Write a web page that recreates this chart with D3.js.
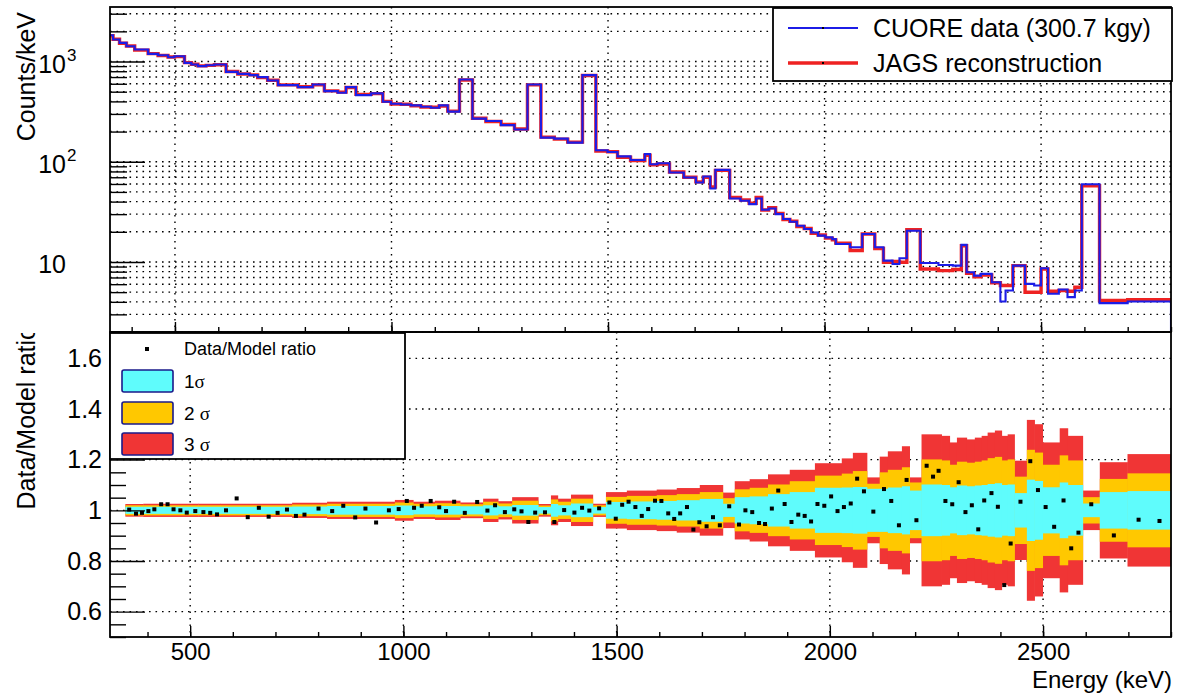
<!DOCTYPE html>
<html>
<head>
<meta charset="utf-8">
<title>CUORE data vs JAGS reconstruction</title>
<script src="https://d3js.org/d3.v7.min.js"></script>
<style>
  body { margin: 0; background: #fff; }
  text { font-family: "Liberation Sans", Arial, Helvetica, sans-serif; fill: #000; }
  .grid { stroke: #000; stroke-width: 1.4; stroke-dasharray: 1.6,4.9; fill: none; }
  .tick line { stroke: #000; stroke-width: 1.4; }
  .domain { display: none; }
</style>
</head>
<body>
<svg id="screen"></svg>
<script>
// ---- top panel: counts per bin (keV edges) ----
const topEdges = [350, 357, 372, 388, 407, 438, 461, 484, 499, 522,
  538, 553, 572, 591, 618, 645, 672, 691, 714, 738,
  784, 818, 845, 876, 895, 918, 953, 980, 999, 1022,
  1045, 1068, 1091, 1110, 1130, 1157, 1187, 1218, 1253, 1284,
  1314, 1345, 1376, 1407, 1441, 1472, 1499, 1522, 1552, 1585,
  1597, 1614, 1642, 1675, 1703, 1720, 1736, 1748, 1781, 1806,
  1826, 1842, 1855, 1871, 1887, 1904, 1920, 1936, 1953, 1969,
  1985, 2002, 2018, 2026, 2059, 2087, 2116, 2136, 2157, 2173,
  2190, 2221, 2263, 2296, 2316, 2328, 2345, 2361, 2386, 2406,
  2418, 2435, 2463, 2484, 2500, 2516, 2541, 2561, 2578, 2594,
  2635, 2700, 2800];

const dataCounts = [1828, 1656, 1535, 1422, 1316, 1191, 1156, 1104, 1130, 970,
  934, 899, 919, 934, 789, 753, 731, 698, 647, 581,
  555, 590, 507, 488, 555, 462, 481, 397, 379, 373,
  365, 354, 346, 365, 316, 662, 269, 255, 232, 210,
  590, 174, 170, 155, 731, 130, 125, 113, 104, 119,
  94.4, 96.6, 78, 69.5, 62, 71.2, 54, 83, 43, 40.8,
  37.8, 43, 33.2, 34.2, 30, 26.8, 25.2, 23, 21.3, 19.7,
  18.3, 17.6, 16.9, 15.1, 14, 19, 14, 10.3, 9.55, 10.9,
  20.5, 9.77, 9.33, 9.19, 14.8, 7.89, 7.31, 7.6, 6.28, 4.03,
  5.19, 9.19, 6.04, 5.82, 8.65, 4.81, 5.31, 4.46, 5.19, 59.7,
  3.88, 4.03];

const modelCounts = [1810, 1670, 1520, 1430, 1300, 1200, 1150, 1110, 1120, 975,
  940, 905, 915, 930, 795, 750, 735, 690, 650, 585,
  560, 585, 510, 495, 550, 470, 478, 400, 377, 375,
  362, 352, 350, 360, 320, 655, 272, 252, 235, 212,
  585, 176, 168, 157, 725, 128, 126, 111, 103, 116,
  93, 95, 79, 70, 63, 70, 56, 82, 44, 41.5,
  38.5, 44, 33, 34.8, 30.5, 26.5, 25.5, 22.6, 21.6, 19.3,
  18.6, 17.3, 16.6, 15.4, 13, 19, 13.6, 9.9, 10.1, 9.93,
  21, 8.5, 8.19, 8.4, 14.5, 7.7, 7.1, 7.4, 6.2, 5.82,
  5.82, 9.19, 4.99, 4.99, 8.5, 5.1, 5.19, 5.1, 5.6, 57.5,
  4.12, 4.19];

// ---- bottom panel: data/model ratio points ----
const ratioE = [357, 373, 387, 402, 416, 432, 447, 461, 477, 492,
  512, 531, 547, 563, 584, 609, 635, 661, 684, 705,
  727, 748, 768, 801, 833, 859, 887, 911, 936, 966,
  989, 1008, 1025, 1043, 1064, 1084, 1100, 1119, 1144, 1173,
  1197, 1215, 1238, 1260, 1277, 1293, 1309, 1332, 1354, 1377,
  1401, 1419, 1436, 1459, 1483, 1498, 1513, 1528, 1544, 1559,
  1574, 1590, 1605, 1621, 1635, 1649, 1665, 1680, 1694, 1711,
  1726, 1742, 1764, 1787, 1802, 1818, 1834, 1848, 1864, 1879,
  1894, 1910, 1926, 1941, 1956, 1971, 1987, 2003, 2018, 2033,
  2049, 2064, 2080, 2102, 2127, 2144, 2162, 2180, 2203, 2227,
  2242, 2255, 2271, 2287, 2302, 2318, 2333, 2348, 2362, 2379,
  2394, 2409, 2424, 2447, 2470, 2488, 2506, 2526, 2548, 2566,
  2583, 2613, 2666, 2724, 2773];

const ratioV = [1.003, 0.987, 0.990, 0.997, 1.004, 1.024, 1.024, 1.004, 1.0, 0.991,
  0.997, 0.993, 0.990, 0.984, 1.0, 1.047, 0.973, 1.010, 0.975, 0.990,
  1.003, 0.978, 0.983, 1.007, 0.997, 1.018, 0.972, 1.007, 0.952, 1.0,
  1.005, 1.037, 1.010, 1.018, 1.037, 1.012, 0.997, 1.034, 0.990, 1.033,
  0.999, 1.020, 0.993, 1.004, 0.996, 0.954, 0.991, 0.992, 0.954, 1.001,
  0.991, 1.010, 0.999, 1.008, 1.031, 0.967, 1.022, 1.034, 1.013, 0.978,
  1.005, 1.038, 1.037, 0.988, 0.966, 0.988, 1.013, 0.924, 0.953, 0.937,
  0.973, 0.941, 1.016, 0.944, 1.0, 0.993, 0.950, 0.946, 1.007, 1.078,
  1.025, 0.954, 0.983, 0.978, 0.956, 1.025, 1.018, 1.055, 0.997, 1.013,
  1.027, 1.125, 1.075, 0.995, 1.084, 1.037, 0.941, 1.120, 0.961, 1.176,
  1.133, 1.156, 1.037, 1.024, 1.111, 0.993, 1.020, 0.925, 1.039, 1.068,
  1.014, 0.705, 0.869, 1.034, 1.194, 1.080, 1.013, 0.935, 1.039, 0.850,
  0.912, 1.024, 0.901, 0.963, 0.958];

// ---- bottom panel: sigma bands (half widths around 1) ----
const bandEdges = [348, 390, 519, 570, 739, 821, 980, 1023, 1074, 1133,
  1187, 1222, 1255, 1316, 1346, 1362, 1393, 1444, 1475, 1524,
  1594, 1641, 1695, 1749, 1777, 1812, 1855, 1906, 1965, 2028,
  2054, 2087, 2117, 2136, 2169, 2187, 2215, 2262, 2281, 2298,
  2321, 2340, 2356, 2370, 2387, 2403, 2417, 2433, 2462, 2480,
  2499, 2539, 2558, 2593, 2633, 2698, 2800];

const sig1 = [0.014, 0.014, 0.014, 0.014, 0.015, 0.017, 0.019, 0.016, 0.017, 0.016,
  0.020, 0.016, 0.021, 0.013, 0.025, 0.020, 0.027, 0.013, 0.033, 0.035,
  0.037, 0.040, 0.045, 0.026, 0.052, 0.055, 0.064, 0.072, 0.089, 0.090,
  0.092, 0.085, 0.085, 0.090, 0.095, 0.078, 0.102, 0.100, 0.091, 0.098,
  0.095, 0.098, 0.100, 0.104, 0.107, 0.100, 0.102, 0.068, 0.121, 0.116,
  0.091, 0.110, 0.100, 0.027, 0.072, 0.076];

const sig2 = [0.020, 0.020, 0.020, 0.020, 0.023, 0.026, 0.031, 0.026, 0.028, 0.024,
  0.034, 0.027, 0.038, 0.019, 0.043, 0.034, 0.046, 0.020, 0.053, 0.057,
  0.060, 0.064, 0.072, 0.048, 0.083, 0.089, 0.102, 0.115, 0.137, 0.145,
  0.155, 0.105, 0.150, 0.160, 0.170, 0.110, 0.201, 0.197, 0.180, 0.192,
  0.188, 0.192, 0.197, 0.206, 0.211, 0.197, 0.201, 0.133, 0.239, 0.228,
  0.180, 0.217, 0.197, 0.052, 0.124, 0.146];

const sig3 = [0.025, 0.026, 0.026, 0.026, 0.030, 0.034, 0.041, 0.034, 0.038, 0.031,
  0.046, 0.036, 0.052, 0.025, 0.059, 0.046, 0.062, 0.026, 0.072, 0.078,
  0.082, 0.088, 0.100, 0.070, 0.115, 0.123, 0.142, 0.160, 0.186, 0.205,
  0.227, 0.130, 0.212, 0.233, 0.253, 0.130, 0.300, 0.294, 0.268, 0.287,
  0.280, 0.287, 0.294, 0.307, 0.315, 0.294, 0.300, 0.196, 0.357, 0.340,
  0.268, 0.324, 0.294, 0.078, 0.190, 0.222];

const majorE = [500, 1000, 1500, 2000, 2500];

// colours
const cBlue = "#1c1ce6", cRed = "#ee2222";
const cBand1 = "#5ffcfc", cBand2 = "#ffc800", cBand3 = "#f03535";

// frame geometry
const L = 110, R = 1171;
const topY0 = 7, topY1 = 332, botY0 = 332, botY1 = 637;

let svg = d3.select('#screen').attr('width', 1191).attr('height', 693);

let xTop = d3.scaleLinear().domain([350, 2800]).range([L, R]);
let xBot = d3.scaleLinear().domain([312, 2800]).range([L, R]);
let yTop = d3.scaleLog().domain([2, 3500]).range([topY1, topY0]);
let yBot = d3.scaleLinear().domain([0.5, 1.7]).range([botY1, botY0 + 1]);

let defs = svg.append('defs');
defs.append('clipPath').attr('id', 'clipTop')
  .append('rect').attr('x', L).attr('y', topY0).attr('width', R - L).attr('height', topY1 - topY0);
defs.append('clipPath').attr('id', 'clipBot')
  .append('rect').attr('x', L).attr('y', botY0).attr('width', R - L).attr('height', botY1 - botY0);
defs.append('clipPath').attr('id', 'clipTitle')
  .append('rect').attr('x', 0).attr('y', 333).attr('width', 100).attr('height', 360);

// ================= TOP PANEL =================
let gTop = svg.append('g');

// log grid (every 1..9 x 10^k) and energy grid
const yTopTicks = yTop.ticks();
const yTopMajor = yTopTicks.filter(v => Math.abs(Math.log10(v) - Math.round(Math.log10(v))) < 1e-9);
const yTopMinor = yTopTicks.filter(v => !yTopMajor.includes(v));

gTop.selectAll('.hgrid').data(yTopTicks).enter().append('line')
  .attr('class', 'grid')
  .attr('x1', L).attr('x2', R)
  .attr('y1', d => yTop(d)).attr('y2', d => yTop(d));
gTop.selectAll('.vgrid').data(majorE).enter().append('line')
  .attr('class', 'grid')
  .attr('x1', d => xTop(d)).attr('x2', d => xTop(d))
  .attr('y1', topY0).attr('y2', topY1);

// histograms
const stepLine = d3.line().x(d => xTop(d[0])).y(d => yTop(d[1])).curve(d3.curveStepAfter);
function histPoints(vals, dropToFloor) {
  let pts = vals.map((v, i) => [topEdges[i], v]);
  pts.push([topEdges[topEdges.length - 1], vals[vals.length - 1]]);
  if (dropToFloor) pts.push([topEdges[topEdges.length - 1], yTop.domain()[0]]);
  return pts;
}
let gHist = gTop.append('g').attr('clip-path', 'url(#clipTop)');
gHist.append('path').attr('d', stepLine(histPoints(modelCounts, false)))
  .attr('fill', 'none').attr('stroke', cRed).attr('stroke-width', 3.4);
gHist.append('path').attr('d', stepLine(histPoints(dataCounts, true)))
  .attr('fill', 'none').attr('stroke', cBlue).attr('stroke-width', 2.1);

// axes (ticks inside the frame)
gTop.append('g').attr('transform', `translate(${L},0)`)
  .call(d3.axisLeft(yTop).tickValues(yTopMinor).tickSizeInner(-17).tickSizeOuter(0).tickFormat(''));
gTop.append('g').attr('transform', `translate(${L},0)`)
  .call(d3.axisLeft(yTop).tickValues(yTopMajor).tickSizeInner(-35).tickSizeOuter(0).tickFormat(''));
gTop.append('g').attr('transform', `translate(0,${topY1})`)
  .call(d3.axisBottom(xTop).ticks(25).tickSizeInner(-5).tickSizeOuter(0).tickFormat(''));
gTop.append('g').attr('transform', `translate(0,${topY1})`)
  .call(d3.axisBottom(xTop).tickValues(majorE).tickSizeInner(-10).tickSizeOuter(0).tickFormat(''));

// 10^k labels
gTop.selectAll('.ylab').data(yTopMajor).enter().append('text')
  .attr('x', 66).attr('y', d => yTop(d) + 11)
  .attr('font-size', 25).attr('text-anchor', 'end')
  .text('10');
gTop.selectAll('.yexp').data(yTopMajor.filter(d => d > 10)).enter().append('text')
  .attr('x', 67).attr('y', d => yTop(d) - 1)
  .attr('font-size', 17)
  .text(d => String(Math.round(Math.log10(d))));

gTop.append('rect').attr('x', L).attr('y', topY0).attr('width', R - L).attr('height', topY1 - topY0)
  .attr('fill', 'none').attr('stroke', '#000').attr('stroke-width', 1.8);

gTop.append('text')
  .attr('transform', 'translate(35,12) rotate(-90)')
  .attr('text-anchor', 'end').attr('font-size', 25)
  .text('Counts/keV');

// legend (top)
let lgT = gTop.append('g');
lgT.append('rect').attr('x', 773).attr('y', 8).attr('width', 399).attr('height', 73)
  .attr('fill', '#fff').attr('stroke', '#000').attr('stroke-width', 1.8);
lgT.append('line').attr('x1', 788).attr('x2', 858).attr('y1', 28).attr('y2', 28)
  .attr('stroke', cBlue).attr('stroke-width', 1.8);
lgT.append('line').attr('x1', 788).attr('x2', 858).attr('y1', 63).attr('y2', 63)
  .attr('stroke', cRed).attr('stroke-width', 3.4);
lgT.selectAll('.mk').data([28, 63]).enter().append('rect')
  .attr('x', 822).attr('y', d => d - 1).attr('width', 2).attr('height', 2).attr('fill', '#000');
lgT.append('text').attr('x', 873).attr('y', 37).attr('font-size', 25).text('CUORE data (300.7 kgy)');
lgT.append('text').attr('x', 873).attr('y', 72).attr('font-size', 25).text('JAGS reconstruction');

// ================= BOTTOM PANEL =================
let gBot = svg.append('g');
const yBotMajor = yBot.ticks(6);
const yBotMinor = yBot.ticks(24).filter(v => !yBotMajor.some(m => Math.abs(m - v) < 1e-9));

gBot.selectAll('.hgrid').data(yBotMajor).enter().append('line')
  .attr('class', 'grid')
  .attr('x1', L).attr('x2', R)
  .attr('y1', d => yBot(d)).attr('y2', d => yBot(d));
gBot.selectAll('.vgrid').data(majorE).enter().append('line')
  .attr('class', 'grid')
  .attr('x1', d => xBot(d)).attr('x2', d => xBot(d))
  .attr('y1', botY0).attr('y2', botY1);

// sigma bands, widest first
const segs = sig1.map((s, i) => ({ e0: bandEdges[i], e1: bandEdges[i + 1], s1: s, s2: sig2[i], s3: sig3[i] }));
let gBand = gBot.append('g').attr('clip-path', 'url(#clipBot)');
[['s3', cBand3], ['s2', cBand2], ['s1', cBand1]].forEach(([k, col]) => {
  gBand.selectAll('.b' + k).data(segs).enter().append('rect')
    .attr('x', d => xBot(d.e0)).attr('width', d => xBot(d.e1) - xBot(d.e0) + 0.4)
    .attr('y', d => yBot(1 + d[k])).attr('height', d => yBot(1 - d[k]) - yBot(1 + d[k]))
    .attr('fill', col);
});

// ratio points
gBand.selectAll('.pt').data(ratioE).enter().append('rect')
  .attr('x', (d, i) => xBot(d) - 2).attr('y', (d, i) => yBot(ratioV[i]) - 2)
  .attr('width', 4).attr('height', 4).attr('fill', '#000');

// axes
gBot.append('g').attr('transform', `translate(${L},0)`)
  .call(d3.axisLeft(yBot).tickValues(yBotMinor).tickSizeInner(-16).tickSizeOuter(0).tickFormat(''));
gBot.append('g').attr('transform', `translate(${L},0)`)
  .call(d3.axisLeft(yBot).tickValues(yBotMajor).tickSizeInner(-35).tickSizeOuter(0)
    .tickPadding(8).tickFormat(d3.format('~g')))
  .selectAll('text').attr('font-size', 25).attr('font-family', '"Liberation Sans", Arial, sans-serif');
gBot.append('g').attr('transform', `translate(0,${botY1})`)
  .call(d3.axisBottom(xBot).ticks(25).tickSizeInner(-5).tickSizeOuter(0).tickFormat(''));
gBot.append('g').attr('transform', `translate(0,${botY1})`)
  .call(d3.axisBottom(xBot).tickValues(majorE).tickSizeInner(-11).tickSizeOuter(0)
    .tickPadding(6).tickFormat(d3.format('d')))
  .selectAll('text').attr('font-size', 24).attr('font-family', '"Liberation Sans", Arial, sans-serif');

gBot.append('rect').attr('x', L).attr('y', botY0).attr('width', R - L).attr('height', botY1 - botY0)
  .attr('fill', 'none').attr('stroke', '#000').attr('stroke-width', 1.8);

gBot.append('g').attr('clip-path', 'url(#clipTitle)')
  .append('text')
  .attr('transform', 'translate(35,326) rotate(-90)')
  .attr('text-anchor', 'end').attr('font-size', 25)
  .text('Data/Model ratio');

gBot.append('text').attr('x', 1172).attr('y', 688).attr('text-anchor', 'end')
  .attr('font-size', 24).text('Energy (keV)');

// legend (bottom)
let lgB = gBot.append('g');
lgB.append('rect').attr('x', L).attr('y', 333).attr('width', 295).attr('height', 126)
  .attr('fill', '#fff').attr('stroke', '#000').attr('stroke-width', 1.8);
lgB.append('rect').attr('x', 145).attr('y', 347).attr('width', 4).attr('height', 4).attr('fill', '#000');
lgB.append('text').attr('x', 184).attr('y', 355).attr('font-size', 18).text('Data/Model ratio');
const legBands = [
  { y: 370, col: cBand1, n: '1', sp: '' },
  { y: 402, col: cBand2, n: '2', sp: ' ' },
  { y: 433, col: cBand3, n: '3', sp: ' ' }
];
lgB.selectAll('.lb').data(legBands).enter().append('rect')
  .attr('x', 122).attr('y', d => d.y).attr('width', 51).attr('height', 22).attr('rx', 2)
  .attr('fill', d => d.col).attr('stroke', '#1a1a8a').attr('stroke-width', 1.6);
let lbt = lgB.selectAll('.lt').data(legBands).enter().append('text')
  .attr('x', 184).attr('y', d => d.y + 18).attr('font-size', 19);
lbt.append('tspan').text(d => d.n + d.sp);
lbt.append('tspan').attr('font-family', '"Liberation Serif", "DejaVu Serif", serif').text('σ');
</script>
</body>
</html>
